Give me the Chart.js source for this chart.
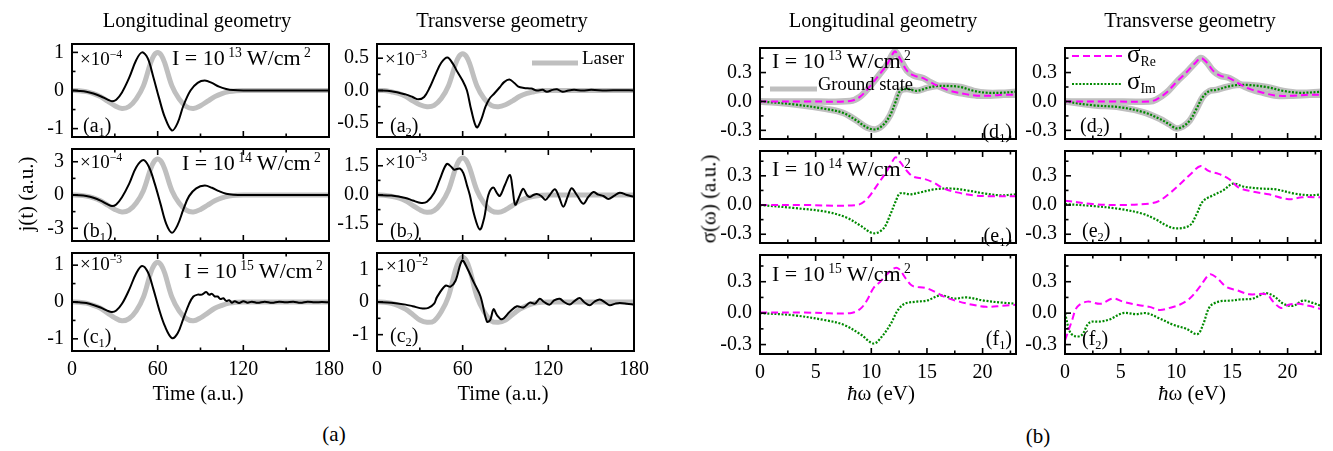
<!DOCTYPE html>
<html>
<head>
<meta charset="utf-8">
<title>Current and conductivity panels</title>
<script src="https://cdn.jsdelivr.net/npm/chart.js@4.4.1/dist/chart.umd.min.js"></script>
<style>
    html, body { margin: 0; padding: 0; background: #fff; }
    #fig { position: relative; width: 1333px; height: 451px; overflow: hidden;
           font-family: "Liberation Serif", "Times New Roman", serif; color: #000; }
    #fig canvas { position: absolute; }
    .txt { position: absolute; white-space: nowrap; line-height: 1; }
    .txt sup { font-size: 0.62em; vertical-align: 0.62em; line-height: 0; }
    .txt sub { font-size: 0.62em; vertical-align: -0.32em; line-height: 0; }
</style>
</head>
<body>
<div id="fig"></div>
<script>
// ---------- time-domain current j(t), t in a.u. ----------
const laserTime = [0, 5, 10, 15, 20, 25, 30, 35, 40, 45, 50, 55, 57.5, 60, 62.5, 65, 70, 75, 80, 85, 90, 95, 100, 105, 110, 115, 120, 180];
const laserA1 = [0, -0.005, -0.03, -0.08, -0.16, -0.28, -0.4, -0.47, -0.42, -0.22, 0.12, 0.72, 0.93, 1.0, 0.93, 0.72, 0.12, -0.22, -0.42, -0.47, -0.4, -0.28, -0.16, -0.08, -0.03, -0.005, 0, 0];
const laserA2 = [0, 0, -0.02, -0.045, -0.09, -0.16, -0.22, -0.25, -0.23, -0.125, 0.07, 0.41, 0.53, 0.57, 0.53, 0.41, 0.07, -0.125, -0.23, -0.25, -0.22, -0.16, -0.09, -0.045, -0.02, 0, 0, 0];
const laserB1 = [0, -0.02, -0.1, -0.26, -0.52, -0.91, -1.3, -1.53, -1.37, -0.72, 0.39, 2.34, 3.02, 3.25, 3.02, 2.34, 0.39, -0.72, -1.37, -1.53, -1.3, -0.91, -0.52, -0.26, -0.1, -0.02, 0, 0];
const laserB2 = [0, -0.01, -0.06, -0.15, -0.3, -0.53, -0.76, -0.89, -0.8, -0.42, 0.23, 1.37, 1.77, 1.9, 1.77, 1.37, 0.23, -0.42, -0.8, -0.89, -0.76, -0.53, -0.3, -0.15, -0.06, -0.01, 0, 0];
const laserC1 = [0, -0.005, -0.03, -0.09, -0.17, -0.3, -0.43, -0.51, -0.45, -0.24, 0.13, 0.78, 1.0, 1.08, 1.0, 0.78, 0.13, -0.24, -0.45, -0.51, -0.43, -0.3, -0.17, -0.09, -0.03, -0.005, 0, 0];
const laserC2 = [0, -0.01, -0.04, -0.11, -0.22, -0.38, -0.55, -0.62, -0.58, -0.3, 0.16, 0.99, 1.27, 1.37, 1.27, 0.99, 0.16, -0.3, -0.58, -0.62, -0.55, -0.38, -0.22, -0.11, -0.04, -0.01, 0, 0];

const timeA1 = [0, 5, 10, 15, 20, 25, 28, 31, 35, 40, 45, 49, 53, 57, 61, 65, 70, 74, 78, 83, 88, 93, 98, 103, 108, 113, 120, 180];
const currentA1 = [0, -0.01, -0.03, -0.08, -0.15, -0.24, -0.28, -0.24, -0.05, 0.33, 0.8, 1.0, 0.85, 0.35, -0.2, -0.7, -1.05, -0.85, -0.4, 0, 0.2, 0.26, 0.2, 0.1, 0.04, 0.01, 0, 0];

const timeB1 = [0, 5, 10, 15, 20, 25, 28, 31, 35, 40, 45, 50, 54, 58, 62, 66, 70, 74, 78, 82, 87, 93, 98, 103, 108, 113, 120, 180];
const currentB1 = [0, -0.03, -0.1, -0.25, -0.5, -0.85, -1.0, -0.85, -0.2, 1.0, 2.5, 3.15, 2.5, 1.0, -0.8, -2.6, -3.4, -2.7, -1.3, -0.1, 0.6, 0.85, 0.65, 0.35, 0.12, 0.03, 0, 0];

const timeC1 = [0, 5, 10, 15, 20, 25, 28, 31, 35, 40, 45, 49, 53, 57, 61, 65, 70, 74, 78, 82, 85, 88, 91, 94, 96, 98, 100, 102, 104, 106, 108, 110, 112, 114, 117, 120, 123, 126, 130, 135, 140, 145, 150, 155, 160, 165, 170, 175, 180];
const currentC1 = [0, -0.01, -0.03, -0.08, -0.15, -0.24, -0.27, -0.23, -0.05, 0.33, 0.78, 0.98, 0.82, 0.35, -0.2, -0.65, -0.98, -0.85, -0.45, -0.05, 0.15, 0.2, 0.2, 0.27, 0.2, 0.22, 0.15, 0.15, 0.08, 0.1, 0.03, 0.05, -0.02, 0.02, -0.03, 0.02, -0.02, 0.01, -0.02, 0.01, -0.02, 0.01, -0.01, 0.01, -0.02, 0.01, -0.01, 0.0, -0.01];

const timeA2 = [0, 10, 20, 25, 29, 33, 37, 41, 45, 49.3, 53, 56, 60, 63, 66, 69.8, 73, 76, 79, 82, 86, 89, 92.7, 96, 99, 103, 108, 112, 116, 119, 123, 126, 130, 134, 138, 144, 150, 160, 170, 180];
const currentA2 = [0, -0.01, -0.06, -0.1, -0.137, -0.1, 0.05, 0.25, 0.43, 0.51, 0.42, 0.3, 0.15, 0, -0.3, -0.57, -0.45, -0.25, -0.12, -0.05, 0.05, 0.13, 0.17, 0.12, 0.06, 0.04, 0.03, 0.0, 0.01, -0.02, 0.01, 0.02, -0.02, 0.0, 0.01, 0.0, 0.01, 0.0, 0.005, 0];

const timeB2 = [0, 10, 20, 25, 31, 35, 40, 44, 48.8, 52, 54, 58, 60.5, 63, 65, 68, 72, 75, 78, 81.4, 84, 86, 89.5, 93.1, 95, 96.8, 99.5, 102.4, 105, 107, 109.5, 112, 115, 118, 121, 124.6, 127.5, 130.5, 133.5, 136.3, 140, 144.5, 148, 151.5, 155, 158.5, 162, 166, 170, 175, 180];
const currentB2 = [0, -0.03, -0.15, -0.28, -0.41, -0.35, 0.1, 0.8, 1.59, 1.45, 1.3, 1.36, 1.12, 0.5, 0, -1.0, -1.77, -1.2, 0.0, 0.38, 0.1, -0.05, 0.5, 1.03, 0.3, -0.5, -0.1, 0.32, 0.0, -0.1, 0.0, 0.05, -0.05, -0.25, 0.0, 0.3, -0.1, -0.6, -0.1, 0.35, 0.0, -0.45, -0.1, 0.15, 0.02, -0.05, -0.2, -0.05, 0.12, 0.0, -0.1];

const timeC2 = [0, 10, 20, 25, 32, 36, 40, 42, 48, 51.5, 55, 59.6, 63, 67.8, 72.5, 77, 79.3, 81.6, 84, 87.5, 93, 98, 102.5, 107, 110.6, 114, 117, 121, 124, 128, 131, 135, 138, 142, 145, 149, 152, 156, 160, 163, 167, 170, 175, 180];
const currentC2 = [0, -0.02, -0.08, -0.13, -0.2, -0.18, -0.05, 0.15, 0.5, 0.47, 0.65, 1.27, 1.05, 0.6, 0.17, -0.6, -0.55, -0.22, -0.4, -0.53, -0.3, -0.13, -0.17, -0.02, -0.05, 0.1, 0.0, -0.08, 0.05, 0.1, 0.0, -0.08, 0.02, 0.12, 0.0, -0.1, 0.0, 0.08, -0.02, -0.1, -0.05, -0.03, -0.05, -0.08];

// ---------- optical conductivity sigma(omega), photon energy in eV ----------
const energyD1Re = [0, 4, 8.1, 9.0, 9.9, 10.8, 11.4, 11.9, 12.15, 12.6, 13.2, 13.8, 14.7, 15.3, 16.2, 17.1, 18.3, 19.5, 20.7, 21.9, 23];
const sigmaD1Re = [0, 0, 0.005, 0.05, 0.16, 0.29, 0.38, 0.49, 0.52, 0.44, 0.32, 0.27, 0.24, 0.2, 0.15, 0.11, 0.08, 0.06, 0.06, 0.07, 0.07];
const energyD1Im = [0, 3, 6, 7.5, 8.7, 9.6, 10.4, 11.1, 11.7, 12.2, 12.6, 13.2, 14.1, 15.0, 15.9, 17.1, 18.0, 19.2, 20.4, 21.6, 23];
const sigmaD1Im = [0, -0.03, -0.08, -0.12, -0.2, -0.27, -0.29, -0.24, -0.14, 0.0, 0.11, 0.13, 0.11, 0.14, 0.16, 0.16, 0.15, 0.11, 0.09, 0.09, 0.1];

const energyD2Re = [0, 4, 7.6, 8.2, 9.1, 10.0, 10.9, 11.7, 12.2, 12.7, 13.3, 13.9, 14.8, 15.7, 16.6, 17.8, 19.0, 20.5, 22.0, 23];
const sigmaD2Re = [0, 0, 0, 0.02, 0.09, 0.2, 0.3, 0.4, 0.45, 0.41, 0.32, 0.27, 0.24, 0.18, 0.13, 0.09, 0.06, 0.06, 0.07, 0.07];
const energyD2Im = [0, 2.5, 4.9, 7.0, 8.5, 9.4, 10.0, 10.6, 11.2, 11.8, 12.4, 13.0, 13.6, 14.5, 15.4, 16.6, 18.1, 19.6, 21.1, 23];
const sigmaD2Im = [0, -0.04, -0.06, -0.11, -0.18, -0.24, -0.28, -0.26, -0.2, -0.08, 0.05, 0.11, 0.12, 0.15, 0.17, 0.17, 0.15, 0.11, 0.09, 0.1];

const energyE1Re = [0, 4, 8.7, 9.6, 10.5, 11.4, 11.9, 12.2, 12.6, 13.2, 13.8, 14.7, 15.6, 16.5, 17.7, 19.2, 20.7, 23];
const sigmaE1Re = [0, 0, 0, 0.06, 0.2, 0.35, 0.45, 0.49, 0.44, 0.35, 0.29, 0.27, 0.23, 0.17, 0.13, 0.1, 0.09, 0.09];
const energyE1Im = [0, 3, 6, 7.8, 9, 10.2, 11.1, 11.7, 12.2, 12.6, 13.5, 14.4, 15.6, 17.1, 18.6, 20.1, 21.6, 23];
const sigmaE1Im = [0, -0.03, -0.07, -0.13, -0.21, -0.29, -0.24, -0.1, 0.04, 0.12, 0.11, 0.13, 0.16, 0.17, 0.15, 0.12, 0.1, 0.11];

const energyE2Re = [0, 2.5, 4.9, 7.6, 8.5, 9.4, 10.3, 11.3, 12.2, 12.9, 13.8, 14.7, 15.6, 16.8, 18.3, 20.1, 21.3, 23];
const sigmaE2Re = [0.045, 0.01, 0, 0.015, 0.045, 0.12, 0.21, 0.32, 0.4, 0.35, 0.32, 0.27, 0.18, 0.14, 0.11, 0.06, 0.08, 0.08];
const energyE2Im = [0, 2.5, 4.9, 7.0, 8.2, 9.1, 10.0, 11.2, 11.8, 12.4, 13.3, 14.2, 15.1, 16.0, 17.5, 19.0, 20.5, 22.0, 23];
const sigmaE2Im = [0.01, -0.01, -0.04, -0.09, -0.15, -0.21, -0.24, -0.21, -0.1, 0.04, 0.1, 0.15, 0.22, 0.19, 0.17, 0.16, 0.12, 0.1, 0.11];

const energyF1Re = [0, 4, 8.1, 9.0, 9.6, 10.2, 10.8, 11.4, 12.1, 12.5, 13.1, 13.7, 14.9, 15.8, 16.7, 17.9, 19.1, 20.3, 21.8, 23];
const sigmaF1Re = [0.005, 0.005, 0.0, 0.04, 0.12, 0.24, 0.3, 0.37, 0.43, 0.42, 0.33, 0.26, 0.24, 0.2, 0.15, 0.11, 0.08, 0.06, 0.07, 0.08];
const energyF1Im = [0, 3, 6, 7.5, 9, 10.2, 10.9, 11.7, 12.4, 13, 14.1, 15, 16.2, 17.4, 18.6, 20.1, 21.8, 23];
const sigmaF1Im = [0, -0.02, -0.07, -0.11, -0.2, -0.29, -0.23, -0.11, 0.03, 0.09, 0.11, 0.12, 0.17, 0.14, 0.15, 0.12, 0.1, 0.09];

const energyF2Re = [0, 0.6, 1.1, 2.0, 3.2, 4.3, 5.2, 6.4, 7.6, 8.5, 9.4, 10.3, 11.2, 12.1, 13.0, 13.6, 14.5, 15.4, 16.6, 18.1, 18.7, 19.4, 20.1, 21.0, 21.9, 23];
const sigmaF2Re = [-0.26, -0.08, 0.06, 0.11, 0.09, 0.14, 0.11, 0.08, 0.06, 0.03, 0.05, 0.08, 0.14, 0.25, 0.37, 0.34, 0.25, 0.22, 0.18, 0.18, 0.11, 0.05, 0.08, 0.09, 0.07, 0.04];
const energyF2Im = [0, 0.45, 0.9, 1.5, 2.2, 3.2, 4.0, 5.2, 6.4, 7.3, 8.5, 9.7, 10.9, 11.9, 12.4, 13.0, 13.8, 14.9, 15.7, 16.9, 18.0, 18.8, 19.6, 20.5, 21.4, 22.2, 23];
const sigmaF2Im = [0, -0.18, -0.22, -0.21, -0.09, -0.08, -0.06, 0.0, -0.01, 0.0, -0.05, -0.11, -0.15, -0.2, -0.11, 0.06, 0.11, 0.12, 0.13, 0.14, 0.19, 0.16, 0.09, 0.07, 0.12, 0.1, 0.07];

// axis ticks
const timeMajor = [0, 60, 120, 180];
const timeMinor = [30, 90, 150];
const energyMajor = [0, 5, 10, 15, 20];
const energyMinor = [2.5, 7.5, 12.5, 17.5, 22.5];
const sigmaMajor = [-0.3, 0.0, 0.3];
const sigmaMinor = [-0.15, 0.15, 0.45];

const FONT = '"Liberation Serif", "Times New Roman", serif';
const GRAY = '#bfbfbf';
const MAGENTA = '#ff00ff';
const GREEN = '#008a00';
const fig = document.getElementById('fig');

function curve(xs, ys, color, width, dash) {
    return {
        data: xs.map((x, i) => ({ x: x, y: ys[i] })),
        borderColor: color,
        borderWidth: width,
        borderDash: dash || [],
        pointRadius: 0,
        fill: false
    };
}
const current = (t, j) => curve(t, j, '#000', 2);
const laser = (t, e) => curve(t, e, GRAY, 5);
const sigmaRe = (e, s) => curve(e, s, MAGENTA, 2, [7, 4]);
const sigmaIm = (e, s) => curve(e, s, GREEN, 2.2, [2, 1.6]);
const ground = (e, s) => curve(e, s, GRAY, 6.5);

const intLabel = v => (Number.isInteger(v) ? String(v) : v.toFixed(1));
const oneDecimal = v => v.toFixed(1);

// frame, inward tick marks and in-panel legend samples
const framePlugin = {
    id: 'frame',
    afterDatasetsDraw(chart, args, o) {
        const { ctx, chartArea: a } = chart;
        const xs = chart.scales.x, ys = chart.scales.y;
        const seg = (x0, y0, x1, y1) => { ctx.beginPath(); ctx.moveTo(x0, y0); ctx.lineTo(x1, y1); ctx.stroke(); };
        ctx.save();
        ctx.strokeStyle = '#000';
        ctx.lineWidth = 1.6;
        const xTick = (v, len) => {
            const p = xs.getPixelForValue(v);
            seg(p, a.bottom, p, a.bottom - len);
            if (o.topTicks) seg(p, a.top, p, a.top + len);
        };
        const yTick = (v, len) => {
            const p = ys.getPixelForValue(v);
            seg(a.left, p, a.left + len, p);
        };
        o.xMajor.forEach(v => xTick(v, 6));
        o.xMinor.forEach(v => xTick(v, 3.5));
        o.yMajor.forEach(v => yTick(v, 6));
        o.yMinor.forEach(v => yTick(v, 3.5));
        ctx.lineWidth = 2;
        ctx.strokeRect(a.left, a.top, a.width, a.height);
        (o.keys || []).forEach(k => {
            ctx.strokeStyle = k.color;
            ctx.lineWidth = k.width;
            ctx.setLineDash(k.dash || []);
            seg(a.left + k.x0, a.top + k.y, a.left + k.x1, a.top + k.y);
        });
        ctx.restore();
    }
};

function makePanel(p) {
    const padL = 60, padT = 14, padR = 22, padB = p.bottom ? 42 : 14;
    const cv = document.createElement('canvas');
    cv.width = padL + p.w + padR;
    cv.height = padT + p.h + padB;
    cv.style.left = (p.left - padL) + 'px';
    cv.style.top = (p.top - padT) + 'px';
    fig.appendChild(cv);

    new Chart(cv, {
        type: 'line',
        data: { datasets: p.datasets },
        options: {
            responsive: false,
            animation: false,
            devicePixelRatio: 1,
            layout: { padding: { left: 0, top: padT, right: padR, bottom: p.bottom ? 0 : padB } },
            elements: { line: { tension: 0.35 }, point: { radius: 0 } },
            plugins: {
                legend: { display: false },
                tooltip: { enabled: false },
                frame: {
                    xMajor: p.xMajor, xMinor: p.xMinor,
                    yMajor: p.yMajor, yMinor: p.yMinor,
                    topTicks: p.topTicks, keys: p.keys
                }
            },
            scales: {
                x: {
                    type: 'linear',
                    min: 0,
                    max: p.xMax,
                    grid: { display: false, drawTicks: false },
                    border: { display: false },
                    ticks: {
                        display: p.bottom,
                        autoSkip: false,
                        maxRotation: 0,
                        padding: 7,
                        color: '#000',
                        font: { family: FONT, size: 20 },
                        callback: v => String(v)
                    },
                    afterBuildTicks: s => { s.ticks = p.xMajor.map(v => ({ value: v })); },
                    afterFit: s => { s.height = p.bottom ? padB : 0; }
                },
                y: {
                    min: p.yRange[0],
                    max: p.yRange[1],
                    grid: { display: false, drawTicks: false },
                    border: { display: false },
                    ticks: {
                        autoSkip: false,
                        padding: 8,
                        color: '#000',
                        font: { family: FONT, size: 20 },
                        callback: v => p.fmt(v)
                    },
                    afterBuildTicks: s => { s.ticks = p.yMajor.map(v => ({ value: v })); },
                    afterFit: s => { s.width = padL; }
                }
            }
        },
        plugins: [framePlugin]
    });
}

// left block: current panels
const LW = 257, LCOL = [72, 377];
const timePanel = (col, top, h, opts) => Object.assign({
    left: LCOL[col], top: top, w: LW, h: h, xMax: 180,
    xMajor: timeMajor, xMinor: timeMinor, bottom: false, topTicks: true
}, opts);

// right block: conductivity panels
const RW = 256, RCOL = [760, 1065];
const energyPanel = (col, top, h, opts) => Object.assign({
    left: RCOL[col], top: top, w: RW, h: h, xMax: 23,
    xMajor: energyMajor, xMinor: energyMinor,
    yRange: [-0.39, 0.555], yMajor: sigmaMajor, yMinor: sigmaMinor, fmt: oneDecimal,
    bottom: false, topTicks: true
}, opts);

const panels = [
    timePanel(0, 38, 105, { topTicks: false, yRange: [-1.22, 1.22], yMajor: [-1, 0, 1], yMinor: [-0.5, 0.5], fmt: intLabel,
        datasets: [current(timeA1, currentA1), laser(laserTime, laserA1)] }),
    timePanel(0, 143, 104, { yRange: [-4.15, 4.15], yMajor: [-3, 0, 3], yMinor: [-1.5, 1.5], fmt: intLabel,
        datasets: [current(timeB1, currentB1), laser(laserTime, laserB1)] }),
    timePanel(0, 247, 104, { bottom: true, yRange: [-1.33, 1.33], yMajor: [-1, 0, 1], yMinor: [-0.5, 0.5], fmt: intLabel,
        datasets: [current(timeC1, currentC1), laser(laserTime, laserC1)] }),
    timePanel(1, 38, 105, { topTicks: false, yRange: [-0.72, 0.72], yMajor: [-0.5, 0, 0.5], yMinor: [-0.25, 0.25], fmt: oneDecimal,
        datasets: [current(timeA2, currentA2), laser(laserTime, laserA2)],
        keys: [{ x0: 155, x1: 201, y: 19, color: GRAY, width: 5 }] }),
    timePanel(1, 143, 104, { yRange: [-2.36, 2.36], yMajor: [-1.5, 0, 1.5], yMinor: [-0.75, 0.75], fmt: oneDecimal,
        datasets: [current(timeB2, currentB2), laser(laserTime, laserB2)] }),
    timePanel(1, 247, 104, { bottom: true, yRange: [-1.5, 1.5], yMajor: [-1, 0, 1], yMinor: [-0.5, 0.5], fmt: intLabel,
        datasets: [current(timeC2, currentC2), laser(laserTime, laserC2)] }),

    energyPanel(0, 42, 103, { topTicks: false,
        datasets: [sigmaRe(energyD1Re, sigmaD1Re), sigmaIm(energyD1Im, sigmaD1Im),
                   ground(energyD1Re, sigmaD1Re), ground(energyD1Im, sigmaD1Im)],
        keys: [{ x0: 10, x1: 57, y: 41, color: GRAY, width: 5 }] }),
    energyPanel(0, 145, 104, {
        datasets: [sigmaRe(energyE1Re, sigmaE1Re), sigmaIm(energyE1Im, sigmaE1Im)] }),
    energyPanel(0, 249, 105, { bottom: true,
        datasets: [sigmaRe(energyF1Re, sigmaF1Re), sigmaIm(energyF1Im, sigmaF1Im)] }),
    energyPanel(1, 42, 103, { topTicks: false,
        datasets: [sigmaRe(energyD2Re, sigmaD2Re), sigmaIm(energyD2Im, sigmaD2Im),
                   ground(energyD2Re, sigmaD2Re), ground(energyD2Im, sigmaD2Im)],
        keys: [{ x0: 7, x1: 57, y: 8, color: MAGENTA, width: 2, dash: [7, 4] },
               { x0: 7, x1: 57, y: 36, color: GREEN, width: 2.2, dash: [2, 1.6] }] }),
    energyPanel(1, 145, 104, {
        datasets: [sigmaRe(energyE2Re, sigmaE2Re), sigmaIm(energyE2Im, sigmaE2Im)] }),
    energyPanel(1, 249, 105, { bottom: true,
        datasets: [sigmaRe(energyF2Re, sigmaF2Re), sigmaIm(energyF2Im, sigmaF2Im)] })
];
panels.forEach(makePanel);

// text placed by baseline; anchor is left / center / right
function text(html, x, baseline, size, anchor, rotate) {
    const el = document.createElement('div');
    el.className = 'txt';
    el.innerHTML = html;
    el.style.fontSize = size + 'px';
    if (rotate) {
        el.style.left = x + 'px';
        el.style.top = baseline + 'px';
        el.style.transform = 'translate(-50%, -50%) rotate(-90deg)';
    } else {
        el.style.top = (baseline - 0.8375 * size) + 'px';
        if (anchor === 'right') {
            el.style.right = (1333 - x) + 'px';
        } else {
            el.style.left = x + 'px';
            if (anchor === 'center') el.style.transform = 'translateX(-50%)';
        }
    }
    fig.appendChild(el);
}

// column titles
text('Longitudinal geometry', 197, 27, 20.5, 'center');
text('Transverse geometry', 502, 27, 20.5, 'center');
text('Longitudinal geometry', 883, 27, 20.5, 'center');
text('Transverse geometry', 1190, 27, 20.5, 'center');

// axis titles
text('j(t) (a.u.)', 26, 194, 21, 'center', true);
text('Time (a.u.)', 198, 400, 20.5, 'center');
text('Time (a.u.)', 503, 400, 20.5, 'center');
text('\u03c3(\u03c9) (a.u.)', 709, 199, 21, 'center', true);
text('<i>\u0127</i>\u03c9 (eV)', 881, 401, 21, 'center');
text('<i>\u0127</i>\u03c9 (eV)', 1192, 401, 21, 'center');
text('(a)', 334, 442, 21, 'center');
text('(b)', 1038, 444, 21, 'center');

// intensity labels
const intensity = p => 'I = 10<sup>&nbsp;' + p + '</sup> W/cm<sup>&nbsp;2</sup>';
text(intensity(13), 172, 65, 22);
text(intensity(14), 182, 170, 22);
text(intensity(15), 184, 278, 22);
text(intensity(13), 772, 68, 22);
text(intensity(14), 772, 176.5, 22);
text(intensity(15), 772, 281.5, 22);

// scale factors of the current panels
const factor = e => '\u00d710<sup>\u2212' + e + '</sup>';
text(factor(4), 80, 65, 19);
text(factor(4), 80, 168, 19);
text(factor(3), 80, 270, 19);
text(factor(3), 385, 65, 19);
text(factor(3), 385, 168, 19);
text(factor(2), 386, 271.5, 19);

// panel tags
const tag = (l, n) => '(' + l + '<sub>' + n + '</sub>)';
text(tag('a', 1), 83, 131.5, 20);
text(tag('b', 1), 83, 236.5, 20);
text(tag('c', 1), 83, 343, 20);
text(tag('a', 2), 390, 131.5, 20);
text(tag('b', 2), 390, 236.5, 20);
text(tag('c', 2), 390, 341.5, 20);
text(tag('d', 1), 1012, 138, 20, 'right');
text(tag('e', 1), 1012, 241.5, 20, 'right');
text(tag('f', 1), 1012, 345, 20, 'right');
text(tag('d', 2), 1080, 131.5, 20);
text(tag('e', 2), 1082, 236.5, 20);
text(tag('f', 2), 1082, 345, 20);

// legend texts
text('Laser', 582, 63.5, 19);
text('Ground state', 818, 90, 18.5);
text('\u03c3<sub style="font-size:0.55em">Re</sub>', 1127, 62, 25);
text('\u03c3<sub style="font-size:0.55em">Im</sub>', 1127, 89, 25);
</script>
</body>
</html>
